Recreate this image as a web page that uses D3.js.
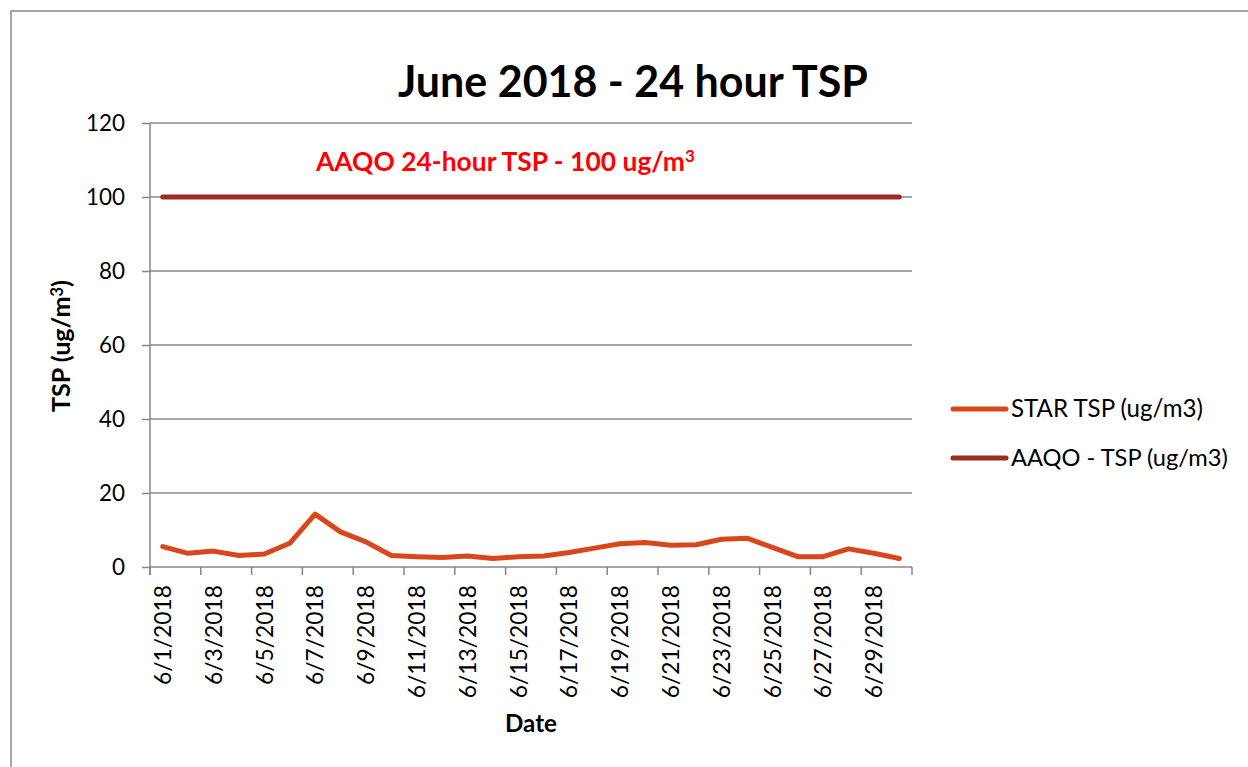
<!DOCTYPE html>
<html>
<head>
<meta charset="utf-8">
<script src="https://cdn.jsdelivr.net/npm/d3@7"></script>
<style>
  body { margin: 0; background: #fff; }
  svg { display: block; font-family: Lato, "Open Sans", sans-serif; }
</style>
</head>
<body>
<div class="chart"></div>
<script>
// categories (one per day of June 2018)
var dates = ["6/1/2018", "6/2/2018", "6/3/2018", "6/4/2018", "6/5/2018", "6/6/2018",
    "6/7/2018", "6/8/2018", "6/9/2018", "6/10/2018", "6/11/2018", "6/12/2018",
    "6/13/2018", "6/14/2018", "6/15/2018", "6/16/2018", "6/17/2018", "6/18/2018",
    "6/19/2018", "6/20/2018", "6/21/2018", "6/22/2018", "6/23/2018", "6/24/2018",
    "6/25/2018", "6/26/2018", "6/27/2018", "6/28/2018", "6/29/2018", "6/30/2018"];

// STAR TSP (ug/m3)
var starTSP = [5.5, 3.7, 4.3, 3.1, 3.5, 6.4, 14.3, 9.5, 6.8, 3.1, 2.8, 2.6, 3.0, 2.3, 2.8,
    3.0, 3.9, 5.1, 6.3, 6.6, 5.9, 6.0, 7.5, 7.8, 5.3, 2.8, 2.8, 4.9, 3.7, 2.3];

// AAQO 24-hour objective
var aaqoTSP = [100, 100, 100, 100, 100, 100, 100, 100, 100, 100, 100, 100, 100, 100, 100,
    100, 100, 100, 100, 100, 100, 100, 100, 100, 100, 100, 100, 100, 100, 100];

// labelled dates (every second day) and y ticks
var dateLabels = ["6/1/2018", "6/3/2018", "6/5/2018", "6/7/2018", "6/9/2018", "6/11/2018",
    "6/13/2018", "6/15/2018", "6/17/2018", "6/19/2018", "6/21/2018", "6/23/2018",
    "6/25/2018", "6/27/2018", "6/29/2018"];
var yTicks = [0, 20, 40, 60, 80, 100, 120];

var seriesNames = ["STAR TSP (ug/m3)", "AAQO - TSP (ug/m3)"];
var seriesColors = ["#d9461a", "#9e2b20"];

var svgWidth = 1248;
var svgHeight = 767;

// plot area
var plot = { left: 150, right: 912, top: 123, bottom: 567 };

var svg = d3.select(".chart").append("svg")
    .attr("width", svgWidth)
    .attr("height", svgHeight);

// outer chart border (runs off the right and bottom of the picture)
svg.append("rect")
    .attr("x", 11)
    .attr("y", 11)
    .attr("width", 1300)
    .attr("height", 800)
    .attr("fill", "none")
    .attr("stroke", "#8a8a8a")
    .attr("stroke-width", 1.5);

// make a text element a given width by adjusting its font size, returns the size
function fitWidth(sel, width) {
    var node = sel.node();
    var fs = parseFloat(sel.attr("font-size"));
    var w = node.getComputedTextLength();
    if (w > 0) fs = fs * width / w;
    sel.attr("font-size", fs);
    return fs;
}

var xScale = d3.scaleBand()
    .domain(dates)
    .range([plot.left, plot.right])
    .padding(0);

var yScale = d3.scaleLinear()
    .domain([0, 120])
    .range([plot.bottom, plot.top]);

var gridColor = "#878787";

// horizontal gridlines
svg.append("g").selectAll("line")
    .data(yTicks.filter(d => d > 0))
    .enter()
    .append("line")
    .attr("x1", plot.left)
    .attr("x2", plot.right)
    .attr("y1", d => yScale(d))
    .attr("y2", d => yScale(d))
    .attr("stroke", gridColor)
    .attr("stroke-width", 1.5);

// y axis
var leftAxis = d3.axisLeft(yScale)
    .tickValues(yTicks)
    .tickSizeInner(8)
    .tickSizeOuter(0)
    .tickPadding(17);

var yAxis = svg.append("g")
    .attr("transform", `translate(${plot.left}, 0)`)
    .call(leftAxis);
yAxis.select(".domain").attr("stroke", gridColor).attr("stroke-width", 1.5)
    .attr("d", `M0,${plot.top}V${plot.bottom + 8}`);
yAxis.selectAll(".tick line").attr("stroke", gridColor).attr("stroke-width", 1.5);
var yLabels = yAxis.selectAll("text")
    .attr("font-family", "Lato, sans-serif")
    .attr("font-size", 23)
    .attr("fill", "#000");
var yFs = fitWidth(yLabels.filter(d => d === 120), 39);
yLabels.attr("font-size", yFs);

// x axis: labels on band centres, ticks every second category
var bottomAxis = d3.axisBottom(xScale)
    .tickValues(dateLabels)
    .tickSize(0)
    .tickPadding(0);

var xAxis = svg.append("g")
    .attr("transform", `translate(0, ${plot.bottom})`)
    .call(bottomAxis);
xAxis.select(".domain").attr("stroke", gridColor).attr("stroke-width", 1.5)
    .attr("d", `M${plot.left},0H${plot.right}`);
var xLabels = xAxis.selectAll("text")
    .attr("font-family", "Lato, sans-serif")
    .attr("font-size", 23)
    .attr("fill", "#000")
    .attr("transform", "rotate(-90)")
    .attr("text-anchor", "end")
    .attr("x", -18)
    .attr("y", 0)
    .attr("dy", "0.36em");
var xFs = fitWidth(xLabels.filter(d => d === "6/1/2018"), 100);
xLabels.attr("font-size", xFs);

var tickPositions = dates.filter((d, i) => i % 2 === 0).map(d => xScale(d));
tickPositions.push(plot.right);
xAxis.append("g").selectAll("line")
    .data(tickPositions)
    .enter()
    .append("line")
    .attr("x1", d => d)
    .attr("x2", d => d)
    .attr("y1", 0)
    .attr("y2", 8)
    .attr("stroke", gridColor)
    .attr("stroke-width", 1.5);

// series lines
var line = d3.line()
    .x((d, i) => xScale(dates[i]) + xScale.bandwidth() / 2)
    .y(d => yScale(d));

[starTSP, aaqoTSP].forEach(function(values, k) {
    svg.append("path")
        .datum(values)
        .attr("d", line)
        .attr("fill", "none")
        .attr("stroke", seriesColors[k])
        .attr("stroke-width", 5)
        .attr("stroke-linecap", "round")
        .attr("stroke-linejoin", "round");
});

// title
var title = svg.append("text")
    .attr("x", 398)
    .attr("y", 97)
    .attr("font-size", 40)
    .attr("font-weight", "bold")
    .attr("fill", "#000")
    .text("June 2018 - 24 hour TSP");
fitWidth(title, 470);

// objective annotation
var note = svg.append("text")
    .attr("x", 316)
    .attr("y", 171)
    .attr("font-size", 24)
    .attr("font-weight", "bold")
    .attr("fill", "#ff0000");
note.append("tspan").text("AAQO 24-hour TSP - 100 ug/m");
note.append("tspan").text("3").attr("dy", -9).attr("font-size", "0.65em");
fitWidth(note, 379);

// y axis title
var yTitle = svg.append("text")
    .attr("transform", "translate(70, 346) rotate(-90)")
    .attr("text-anchor", "middle")
    .attr("font-size", 21)
    .attr("font-weight", "bold")
    .attr("fill", "#000");
yTitle.append("tspan").text("TSP (ug/m");
yTitle.append("tspan").text("3").attr("dy", -7).attr("font-size", "0.65em");
yTitle.append("tspan").text(")").attr("dy", 7);
fitWidth(yTitle, 132);

// x axis title
var xTitle = svg.append("text")
    .attr("x", 531)
    .attr("y", 732)
    .attr("text-anchor", "middle")
    .attr("font-size", 22)
    .attr("font-weight", "bold")
    .attr("fill", "#000")
    .text("Date");
fitWidth(xTitle, 52);

// legend
var legend = svg.append("g");
var legendY = [409, 458];
var legendWidths = [192, 217];
seriesNames.forEach(function(name, k) {
    legend.append("line")
        .attr("x1", 953)
        .attr("x2", 1006)
        .attr("y1", legendY[k])
        .attr("y2", legendY[k])
        .attr("stroke", seriesColors[k])
        .attr("stroke-width", 5)
        .attr("stroke-linecap", "round");
    var t = legend.append("text")
        .attr("x", 1011)
        .attr("y", legendY[k])
        .attr("dy", "0.35em")
        .attr("font-size", 22)
        .attr("fill", "#000")
        .text(name);
    fitWidth(t, legendWidths[k]);
});
</script>
</body>
</html>
